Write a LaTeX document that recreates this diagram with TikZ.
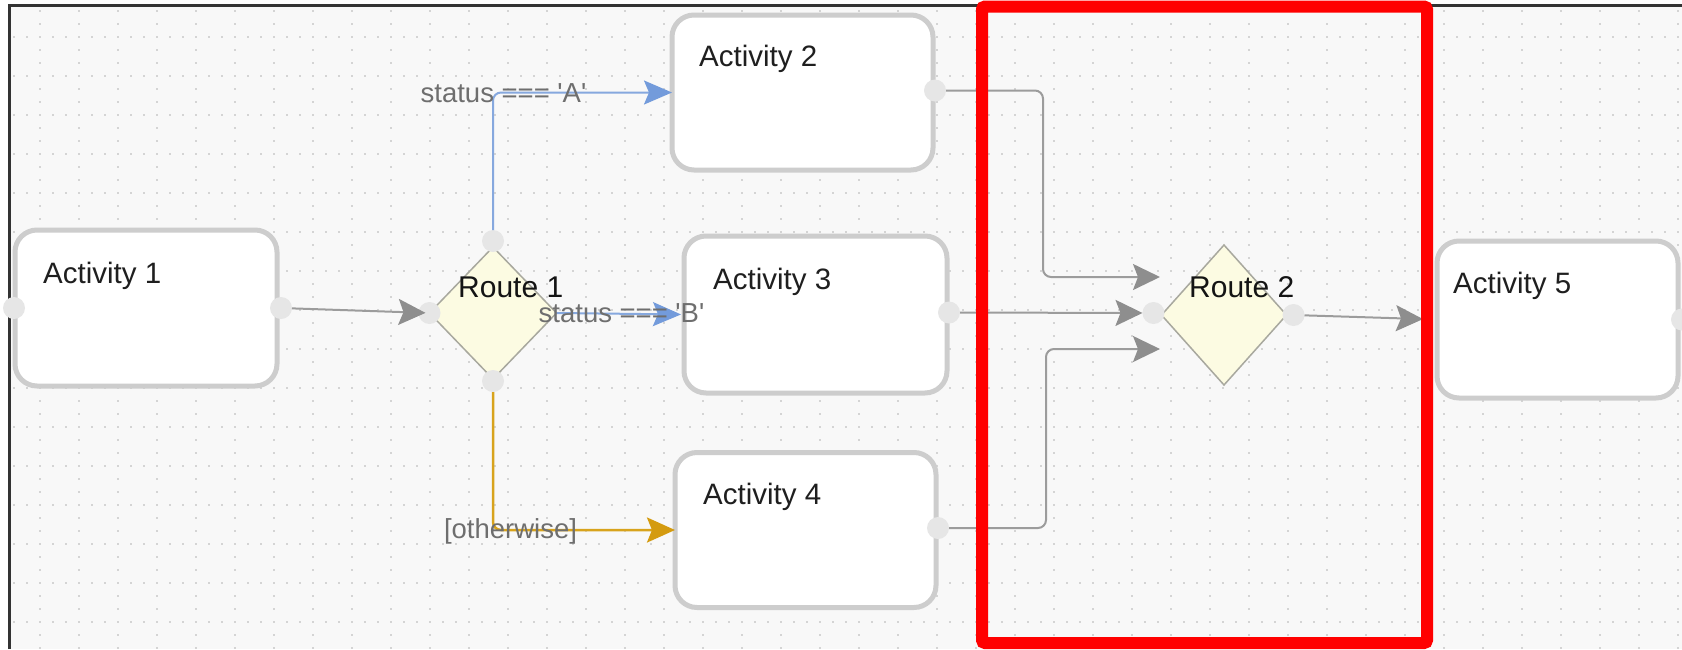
\documentclass[tikz,border=0pt]{standalone}
\usepackage{fontspec}
\newfontfamily\labfont{Liberation Sans}
\usetikzlibrary{shapes.geometric,arrows.meta,calc}
\definecolor{canvas}{HTML}{F8F8F8}
\definecolor{boxgray}{HTML}{CDCDCD}
\definecolor{portgray}{HTML}{E6E6E6}
\definecolor{linegray}{HTML}{9C9C9C}
\definecolor{tipgray}{HTML}{8E8E8E}
\definecolor{blueline}{HTML}{86A8DE}
\definecolor{bluetip}{HTML}{739BDB}
\definecolor{orangeline}{HTML}{D8A31C}
\definecolor{orangetip}{HTML}{D49B10}
\definecolor{diafill}{HTML}{FCFBE2}
\definecolor{diadraw}{HTML}{A8A89E}
\definecolor{labgray}{HTML}{6E6E6E}
\definecolor{frameline}{HTML}{333333}
\begin{document}
\begin{tikzpicture}[x=1pt,y=-1pt,
  actbox/.style={rectangle, rounded corners=22pt, draw=boxgray, line width=5pt, fill=white, inner sep=0pt, outer sep=0pt},
  acttext/.style={anchor=west, inner sep=0pt, text=black!88, font=\labfont\fontsize{29.5}{34}\selectfont},
  routeshape/.style={diamond, draw=diadraw, line width=1.5pt, fill=diafill, inner sep=0pt, outer sep=0pt},
  routetext/.style={anchor=west, inner sep=0pt, text=black!92, font=\labfont\fontsize{30}{34}\selectfont},
  edgetext/.style={inner sep=0pt, text=labgray, font=\labfont\fontsize{27.5}{32}\selectfont},
  port/.style={circle, fill=portgray, minimum size=22pt, inner sep=0pt, outer sep=0pt},
  gcon/.style={draw=linegray, line width=2pt, rounded corners=8pt, -{Stealth[length=27pt,width=26pt,inset=5pt,color=tipgray]}},
  bcon/.style={draw=blueline, line width=2pt, rounded corners=8pt, -{Stealth[length=28pt,width=24pt,inset=5pt,color=bluetip]}},
  ocon/.style={draw=orangeline, line width=2.5pt, rounded corners=8pt, -{Stealth[length=28pt,width=25pt,inset=5pt,color=orangetip]}},
  griddot/.style={draw=black!17, line width=1.7pt, dash pattern=on 1.5pt off 11.5pt}
]
\useasboundingbox (0,0) rectangle (1682,649);
\fill[white] (0,0) rectangle (1682,649);
\fill[canvas] (9,5) rectangle (1682,649);
\begin{scope}
  \clip (9,5) rectangle (1682,649);
  \foreach \gx in {1,40,...,1682} \draw[griddot] (\gx,-2.75) -- (\gx,660);
  \foreach \gy in {37,76,...,649} \draw[griddot] (-12.75,\gy) -- (1700,\gy);
\end{scope}
\draw[frameline, line width=3pt] (9,649) -- (9,5) -- (1682,5);

% activity boxes
\node[actbox, minimum width=262pt, minimum height=156pt] (a1) at (146,308) {};
\node[actbox, minimum width=261pt, minimum height=155pt] (a2) at (802.5,92.5) {};
\node[actbox, minimum width=263pt, minimum height=157pt] (a3) at (815.5,314.5) {};
\node[actbox, minimum width=261pt, minimum height=155pt] (a4) at (805.5,530) {};
\node[actbox, minimum width=241pt, minimum height=157pt] (a5) at (1557.5,319.5) {};

% routes
\node[routeshape, minimum width=127pt, minimum height=132pt] (r1) at (493,313) {};
\node[routeshape, minimum width=125pt, minimum height=140pt] (r2) at (1224,315) {};

% ports
\node[port] (p1l) at ($(a1.west)+(-1,0)$) {};
\node[port] (p1r) at ($(a1.east)+(4,0)$) {};
\node[port] (p2r) at ($(a2.east)+(2,-2)$) {};
\node[port] (p3r) at ($(a3.east)+(2,-2)$) {};
\node[port] (p4r) at ($(a4.east)+(2,-2)$) {};
\node[port] (p5r) at ($(a5.east)+(4,0)$) {};
\node[port] (pr1t) at ($(r1.north)+(0,-6)$) {};
\node[port] (pr1b) at ($(r1.south)+(0,2)$) {};
\node[port] (pr1l) at (r1.west) {};
\node[port] (pr2l) at ($(r2.west)+(-8,-2)$) {};
\node[port] (pr2r) at ($(r2.east)+(7,0)$) {};

% texts
\node[acttext] (t1) at (43,276) {Activity 1};
\node[acttext] (t2) at (699,59) {Activity 2};
\node[acttext] (t3) at (713,282) {Activity 3};
\node[acttext] (t4) at (703,497) {Activity 4};
\node[acttext] (t5) at (1453,286) {Activity 5};
\node[routetext] (tr1) at (458,287) {Route 1};
\node[routetext] (tr2) at (1189,287) {Route 2};

% junction coordinates
\coordinate (k1) at (1043,277);
\coordinate (k2) at (1046,349);
\coordinate (in1) at (1160,277);
\coordinate (in3) at (1160,349);

% connectors
\draw[gcon, shorten >=4pt] (p1r) -- (r1.west);
\draw[bcon] (pr1t) |- (a2.west);
\draw[bcon, shorten >=3pt] (r1.east) -- (a3.west);
\draw[ocon] (pr1b) |- (a4.west);
\draw[gcon] (p2r) -| (k1) -- (in1);
\draw[gcon] (p3r) -- (pr2l);
\draw[gcon] (p4r) -| (k2) -- (in3);
\draw[gcon, shorten >=14pt] (pr2r) -- (a5.west);

% edge labels
\node[edgetext] (la) at (503.5,93) {status === 'A'};
\node[edgetext] (lb) at (621.5,313.5) {status === 'B'};
\node[edgetext] (lo) at (510.5,531) {[otherwise]};

% highlight
\draw[red, line width=12pt, rounded corners=3pt] (982,6.5) rectangle (1427,643);
\end{tikzpicture}
\end{document}
